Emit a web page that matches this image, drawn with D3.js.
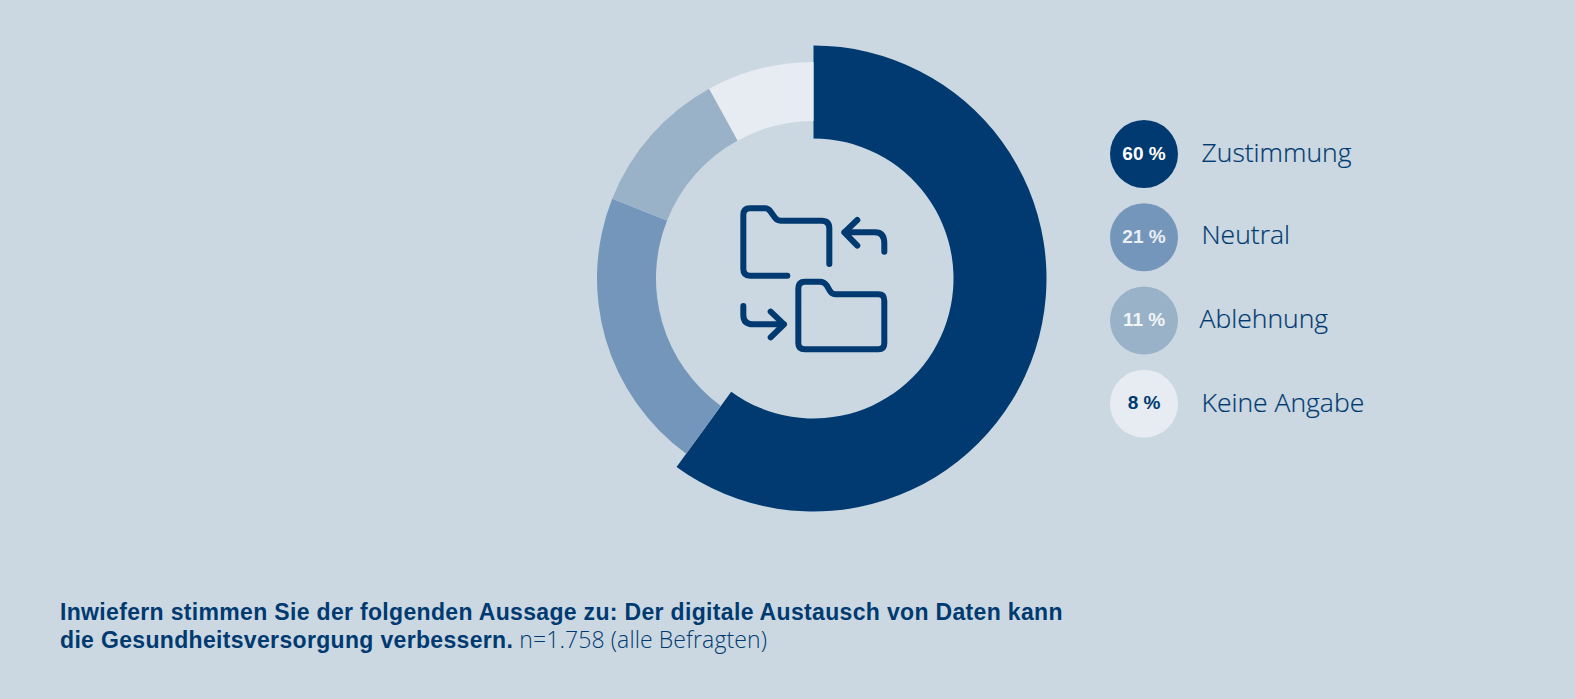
<!DOCTYPE html>
<meta charset="utf-8">
<script src="https://d3js.org/d3.v7.min.js"></script>
<style>
html, body { margin: 0; padding: 0; background: #cbd8e2; overflow: hidden; }
svg { display: block; }
text { font-family: "Liberation Sans", sans-serif; fill: #003a70; }
.legendLabel { font-family: "Open Sans", sans-serif; font-size: 26.5px; font-weight: 300; stroke: #003a70; stroke-width: 0.2; }
.legendValue { font-size: 19px; font-weight: 700; text-anchor: middle; }
.title { font-size: 23px; font-weight: 700; letter-spacing: 0.33px; }
.note { font-family: "Open Sans", sans-serif; font-size: 23px; font-weight: 300; letter-spacing: 0.1px; }
.icon path { fill: none; stroke: #003a70; stroke-width: 18; stroke-linecap: round; stroke-linejoin: round; }
</style>
<body>
<div id="chart"></div>
<script>
// data
var categories = ["Zustimmung", "Neutral", "Ablehnung", "Keine Angabe"];
var shares = [60, 21, 11, 8];
var colors = ["#003a70", "#7596bb", "#99b2c7", "#e6ecf1"];
var valueColors = ["#ffffff", "#e9eff4", "#f2f5f8", "#003a70"];
var titleLines = [
    "Inwiefern stimmen Sie der folgenden Aussage zu: Der digitale Austausch von Daten kann",
    "die Gesundheitsversorgung verbessern."
];
var note = " n=1.758 (alle Befragten)";

var width = 1575, height = 699;
var cx = 813.5, cy = 278.5;

var svg = d3.select("#chart").append("svg")
    .attr("width", width)
    .attr("height", height);

// donut, the first slice is thicker than the rest
var pie = d3.pie().sort(null)(shares);
var arcBig = d3.arc().innerRadius(140).outerRadius(233);
var arcSmall = d3.arc().innerRadius(157.5).outerRadius(216.5);

var donut = svg.append("g")
    .attr("transform", "translate(" + cx + "," + cy + ")");

donut.selectAll("path")
    .data(pie)
    .enter()
    .append("path")
    .attr("d", function(d, i) { return i == 0 ? arcBig(d) : arcSmall(d); })
    .attr("fill", function(d, i) { return colors[i]; });

// folder icon, traced in zoomed pixels so it is scaled back by a third
var icon = svg.append("g")
    .attr("class", "icon")
    .attr("transform", "translate(710,180) scale(0.3333)");

icon.append("path").attr("d", "M232,287 H120 Q100,287 100,267 V105 Q100,85 120,85 H165 Q175,85 182,95 L195,113 Q201,122 212,122 H335 Q358,122 358,145 V252");
icon.append("path").attr("d", "M442,120 L403,157 L442,197 M403,157 H495 Q523,157 523,190 V215");
icon.append("path").attr("d", "M285,305 H330 Q342,305 350,316 L360,333 Q366,343 378,343 H505 Q523,343 523,362 V490 Q523,508 505,508 H285 Q265,508 265,490 V325 Q265,305 285,305 Z");
icon.append("path").attr("d", "M100,378 V405 Q100,433 130,433 H222 M182,395 L222,433 L182,472");

// legend
var y = d3.scalePoint()
    .domain(categories)
    .range([154, 403.7]);

var legend = svg.selectAll(".legendItem")
    .data(categories)
    .enter()
    .append("g")
    .attr("class", "legendItem")
    .attr("transform", function(d) { return "translate(1144," + y(d) + ")"; });

legend.append("circle")
    .attr("r", 34)
    .attr("fill", function(d, i) { return colors[i]; });

legend.append("text")
    .attr("class", "legendValue")
    .attr("y", 5.5)
    .style("fill", function(d, i) { return valueColors[i]; })
    .text(function(d, i) { return shares[i] + " %"; });

legend.append("text")
    .attr("class", "legendLabel")
    .attr("x", function(d, i) { return i == 2 ? 55.5 : 57.5; })
    .attr("y", function(d, i) { return i == 1 ? 7 : 8; })
    .text(function(d) { return d; });

// question below the chart
var title = svg.append("text")
    .attr("class", "title");

title.selectAll("tspan")
    .data(titleLines)
    .enter()
    .append("tspan")
    .attr("x", 60)
    .attr("y", function(d, i) { return 620 + i * 28; })
    .text(function(d) { return d; });

title.append("tspan")
    .attr("class", "note")
    .text(note);
</script>
</body>
